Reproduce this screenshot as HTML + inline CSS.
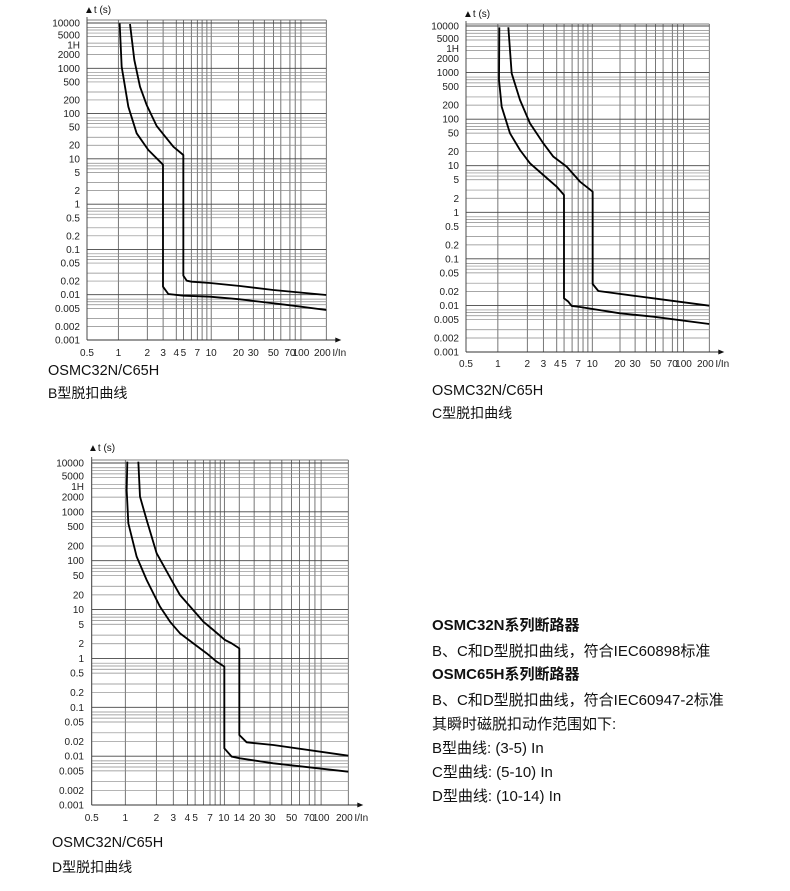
<!DOCTYPE html>
<html><head><meta charset="utf-8">
<style>
html,body{margin:0;padding:0;background:#fff;}
svg{display:block;}
.t{font-family:"Liberation Sans","Noto Sans CJK SC",sans-serif;fill:#111;}
.yl text{font-size:10px;text-anchor:end;font-family:"Liberation Sans",sans-serif;fill:#222;}
.xl text{font-size:10px;text-anchor:middle;font-family:"Liberation Sans",sans-serif;fill:#222;}
.cv{fill:none;stroke:#000;stroke-width:5.5;stroke-linejoin:round;}
</style></head>
<body>
<svg id="s" width="790" height="891" viewBox="0 0 790 891" xmlns="http://www.w3.org/2000/svg">
<g id="grids"></g>

<!-- Chart 1 labels -->
<svg class="yl" x="0" y="23" width="80" height="317" overflow="visible">
<text x="80" y="0%" dy="0.35em">10000</text><text x="80" y="4.3%" dy="0.2em">5000</text><text x="80" y="6.34%" dy="0.55em">1H</text>
<text x="80" y="9.99%" dy="0.35em">2000</text><text x="80" y="14.29%" dy="0.35em">1000</text><text x="80" y="18.59%" dy="0.35em">500</text>
<text x="80" y="24.27%" dy="0.35em">200</text><text x="80" y="28.57%" dy="0.35em">100</text><text x="80" y="32.87%" dy="0.35em">50</text>
<text x="80" y="38.56%" dy="0.35em">20</text><text x="80" y="42.86%" dy="0.35em">10</text><text x="80" y="47.16%" dy="0.35em">5</text>
<text x="80" y="52.84%" dy="0.35em">2</text><text x="80" y="57.14%" dy="0.35em">1</text><text x="80" y="61.44%" dy="0.35em">0.5</text>
<text x="80" y="67.13%" dy="0.35em">0.2</text><text x="80" y="71.43%" dy="0.35em">0.1</text><text x="80" y="75.73%" dy="0.35em">0.05</text>
<text x="80" y="81.41%" dy="0.35em">0.02</text><text x="80" y="85.71%" dy="0.35em">0.01</text><text x="80" y="90.01%" dy="0.35em">0.005</text>
<text x="80" y="95.7%" dy="0.35em">0.002</text><text x="80" y="100%" dy="0.35em">0.001</text>
</svg>
<svg class="xl" x="87" y="356" width="239.3" height="10" overflow="visible">
<text x="0%" y="0">0.5</text><text x="13.1%" y="0">1</text><text x="25.2%" y="0">2</text><text x="31.8%" y="0">3</text>
<text x="37.3%" y="0">4</text><text x="40.3%" y="0">5</text><text x="46.1%" y="0">7</text><text x="51.9%" y="0">10</text>
<text x="63.3%" y="0">20</text><text x="69.5%" y="0">30</text><text x="77.9%" y="0">50</text><text x="84.8%" y="0">70</text>
<text x="89.4%" y="0">100</text><text x="100%" y="0" dx="-4">200</text><text x="100%" y="0" dx="13">I/In</text>
</svg>
<text class="t" x="84" y="13" font-size="10">▲t (s)</text>
<text class="t" x="48" y="375" font-size="14.5">OSMC32N/C65H</text>
<text class="t" x="48" y="398" font-size="14">B型脱扣曲线</text>

<!-- Chart 2 labels -->
<svg class="yl" x="0" y="26" width="459" height="326" overflow="visible">
<text x="459" y="0%" dy="0.35em">10000</text><text x="459" y="4.3%" dy="0.2em">5000</text><text x="459" y="6.34%" dy="0.55em">1H</text>
<text x="459" y="9.99%" dy="0.35em">2000</text><text x="459" y="14.29%" dy="0.35em">1000</text><text x="459" y="18.59%" dy="0.35em">500</text>
<text x="459" y="24.27%" dy="0.35em">200</text><text x="459" y="28.57%" dy="0.35em">100</text><text x="459" y="32.87%" dy="0.35em">50</text>
<text x="459" y="38.56%" dy="0.35em">20</text><text x="459" y="42.86%" dy="0.35em">10</text><text x="459" y="47.16%" dy="0.35em">5</text>
<text x="459" y="52.84%" dy="0.35em">2</text><text x="459" y="57.14%" dy="0.35em">1</text><text x="459" y="61.44%" dy="0.35em">0.5</text>
<text x="459" y="67.13%" dy="0.35em">0.2</text><text x="459" y="71.43%" dy="0.35em">0.1</text><text x="459" y="75.73%" dy="0.35em">0.05</text>
<text x="459" y="81.41%" dy="0.35em">0.02</text><text x="459" y="85.71%" dy="0.35em">0.01</text><text x="459" y="90.01%" dy="0.35em">0.005</text>
<text x="459" y="95.7%" dy="0.35em">0.002</text><text x="459" y="100%" dy="0.35em">0.001</text>
</svg>
<svg class="xl" x="466" y="367" width="243.3" height="10" overflow="visible">
<text x="0%" y="0">0.5</text><text x="13.1%" y="0">1</text><text x="25.2%" y="0">2</text><text x="31.8%" y="0">3</text>
<text x="37.3%" y="0">4</text><text x="40.3%" y="0">5</text><text x="46.1%" y="0">7</text><text x="51.9%" y="0">10</text>
<text x="63.3%" y="0">20</text><text x="69.5%" y="0">30</text><text x="77.9%" y="0">50</text><text x="84.8%" y="0">70</text>
<text x="89.4%" y="0">100</text><text x="100%" y="0" dx="-4">200</text><text x="100%" y="0" dx="13">I/In</text>
</svg>
<text class="t" x="463" y="17" font-size="10">▲t (s)</text>
<text class="t" x="432" y="395" font-size="14.5">OSMC32N/C65H</text>
<text class="t" x="432" y="418" font-size="14">C型脱扣曲线</text>

<!-- Chart 3 labels -->
<svg class="yl" x="0" y="463" width="84" height="342" overflow="visible">
<text x="84" y="0%" dy="0.35em">10000</text><text x="84" y="4.3%" dy="0.2em">5000</text><text x="84" y="6.34%" dy="0.55em">1H</text>
<text x="84" y="9.99%" dy="0.35em">2000</text><text x="84" y="14.29%" dy="0.35em">1000</text><text x="84" y="18.59%" dy="0.35em">500</text>
<text x="84" y="24.27%" dy="0.35em">200</text><text x="84" y="28.57%" dy="0.35em">100</text><text x="84" y="32.87%" dy="0.35em">50</text>
<text x="84" y="38.56%" dy="0.35em">20</text><text x="84" y="42.86%" dy="0.35em">10</text><text x="84" y="47.16%" dy="0.35em">5</text>
<text x="84" y="52.84%" dy="0.35em">2</text><text x="84" y="57.14%" dy="0.35em">1</text><text x="84" y="61.44%" dy="0.35em">0.5</text>
<text x="84" y="67.13%" dy="0.35em">0.2</text><text x="84" y="71.43%" dy="0.35em">0.1</text><text x="84" y="75.73%" dy="0.35em">0.05</text>
<text x="84" y="81.41%" dy="0.35em">0.02</text><text x="84" y="85.71%" dy="0.35em">0.01</text><text x="84" y="90.01%" dy="0.35em">0.005</text>
<text x="84" y="95.7%" dy="0.35em">0.002</text><text x="84" y="100%" dy="0.35em">0.001</text>
</svg>
<svg class="xl" x="91.7" y="821" width="256.6" height="10" overflow="visible">
<text x="0%" y="0">0.5</text><text x="13.1%" y="0">1</text><text x="25.2%" y="0">2</text><text x="31.8%" y="0">3</text>
<text x="37.3%" y="0">4</text><text x="40.3%" y="0">5</text><text x="46.1%" y="0">7</text><text x="51.5%" y="0">10</text>
<text x="57.5%" y="0">14</text><text x="63.5%" y="0">20</text><text x="69.5%" y="0">30</text><text x="77.9%" y="0">50</text><text x="84.8%" y="0">70</text>
<text x="89.4%" y="0">100</text><text x="100%" y="0" dx="-4">200</text><text x="100%" y="0" dx="13">I/In</text>
</svg>
<text class="t" x="88" y="451" font-size="10">▲t (s)</text>
<text class="t" x="52" y="847" font-size="14.5">OSMC32N/C65H</text>
<text class="t" x="52" y="872" font-size="14">D型脱扣曲线</text>

<!-- Curves -->
<g transform="translate(40,0) scale(0.33333)">
<polyline class="cv" points="270,72 283,180 300,260 320,315 350,378 400,440 430,465 430,827 440,842 455,845 510,849 600,858 700,870 859,885"/>
<polyline class="cv" points="239,70 245,200 265,320 290,400 325,450 369,494 369,860 385,882 430,887 510,890 600,898 760,917 859,930"/>
</g>
<g transform="translate(420,0) scale(0.33333)">
<polyline class="cv" points="265,82 275,220 300,300 330,370 370,430 400,470 440,500 480,545 518,575 518,852 535,873 700,895 868,917"/>
<polyline class="cv" points="238,82 237,240 245,320 270,400 300,450 330,490 370,525 410,560 432,585 432,895 445,905 455,918 480,921 600,940 700,950 868,972"/>
</g>
<g transform="translate(40,440) scale(0.33333)">
<polyline class="cv" points="295,65 300,170 320,240 350,340 400,430 420,465 490,545 520,570 555,600 575,610 598,625 598,885 620,907 700,915 925,947"/>
<polyline class="cv" points="262,65 260,150 265,250 290,350 320,420 360,500 390,545 420,580 460,610 500,640 530,665 553,680 553,925 575,950 600,955 700,970 925,995"/>
</g>

<!-- Right text -->
<g class="t" font-size="15">
<text x="432" y="630" font-weight="bold">OSMC32N系列断路器</text>
<text x="432" y="656">B、C和D型脱扣曲线，符合IEC60898标准</text>
<text x="432" y="679" font-weight="bold">OSMC65H系列断路器</text>
<text x="432" y="705">B、C和D型脱扣曲线，符合IEC60947-2标准</text>
<text x="432" y="729">其瞬时磁脱扣动作范围如下:</text>
<text x="432" y="753">B型曲线: (3-5) In</text>
<text x="432" y="777">C型曲线: (5-10) In</text>
<text x="432" y="801">D型曲线: (10-14) In</text>
</g>
</svg>
<script>
(function(){
var NS="http://www.w3.org/2000/svg",g=document.getElementById("grids");
function ln(x1,y1,x2,y2,c,w){var l=document.createElementNS(NS,"line");
l.setAttribute("x1",x1);l.setAttribute("y1",y1);l.setAttribute("x2",x2);l.setAttribute("y2",y2);
l.setAttribute("stroke",c);l.setAttribute("stroke-width",w);g.appendChild(l);}
var fr=[0,.131,.252,.318,.373,.403,.436,.461,.481,.501,.519,.633,.695,.741,.779,.810,.848,.870,.894,1];
var charts=[
 {L:87,R:326.3,y0:23,yb:340,top:20,extra:[]},
 {L:466,R:709.3,y0:26,yb:352,top:24,extra:[]},
 {L:91.7,R:348.3,y0:463,yb:805,top:460,extra:[.575],fr10:.517}
];
charts.forEach(function(c){
 var d=(c.yb-c.y0)/7,W=c.R-c.L;
 var xs=fr.slice();
 if(c.fr10){xs[10]=c.fr10;}
 xs=xs.concat(c.extra);
 xs.forEach(function(f){var x=c.L+f*W;ln(x,c.top,x,c.yb,"#555",0.8);});
 var vals=[];
 for(var k=-3;k<=3;k++){[1,2,3,5,6,7,8].forEach(function(m){vals.push(m*Math.pow(10,k));});}
 vals.push(10000,3600);
 vals.forEach(function(v){var y=c.y0+(4-Math.log10(v))*d;if(y>c.yb+0.5||y<c.top-0.5)return;
  var m=Math.round(v/Math.pow(10,Math.floor(Math.log10(v)+1e-9)));
  ln(c.L,y,c.R,y,m==1?"#444":"#888",m==1?0.9:0.7);});
 ln(c.L,c.top,c.R,c.top,"#555",0.8);
 ln(c.L,c.top-3,c.L,c.yb,"#444",0.9);
 ln(c.L,c.yb,c.R+11,c.yb,"#333",0.9);
 var p=document.createElementNS(NS,"polygon");
 p.setAttribute("points",(c.R+9)+","+(c.yb-2.5)+" "+(c.R+15)+","+c.yb+" "+(c.R+9)+","+(c.yb+2.5));
 p.setAttribute("fill","#111");g.appendChild(p);
});
})();
</script>
</body></html>
